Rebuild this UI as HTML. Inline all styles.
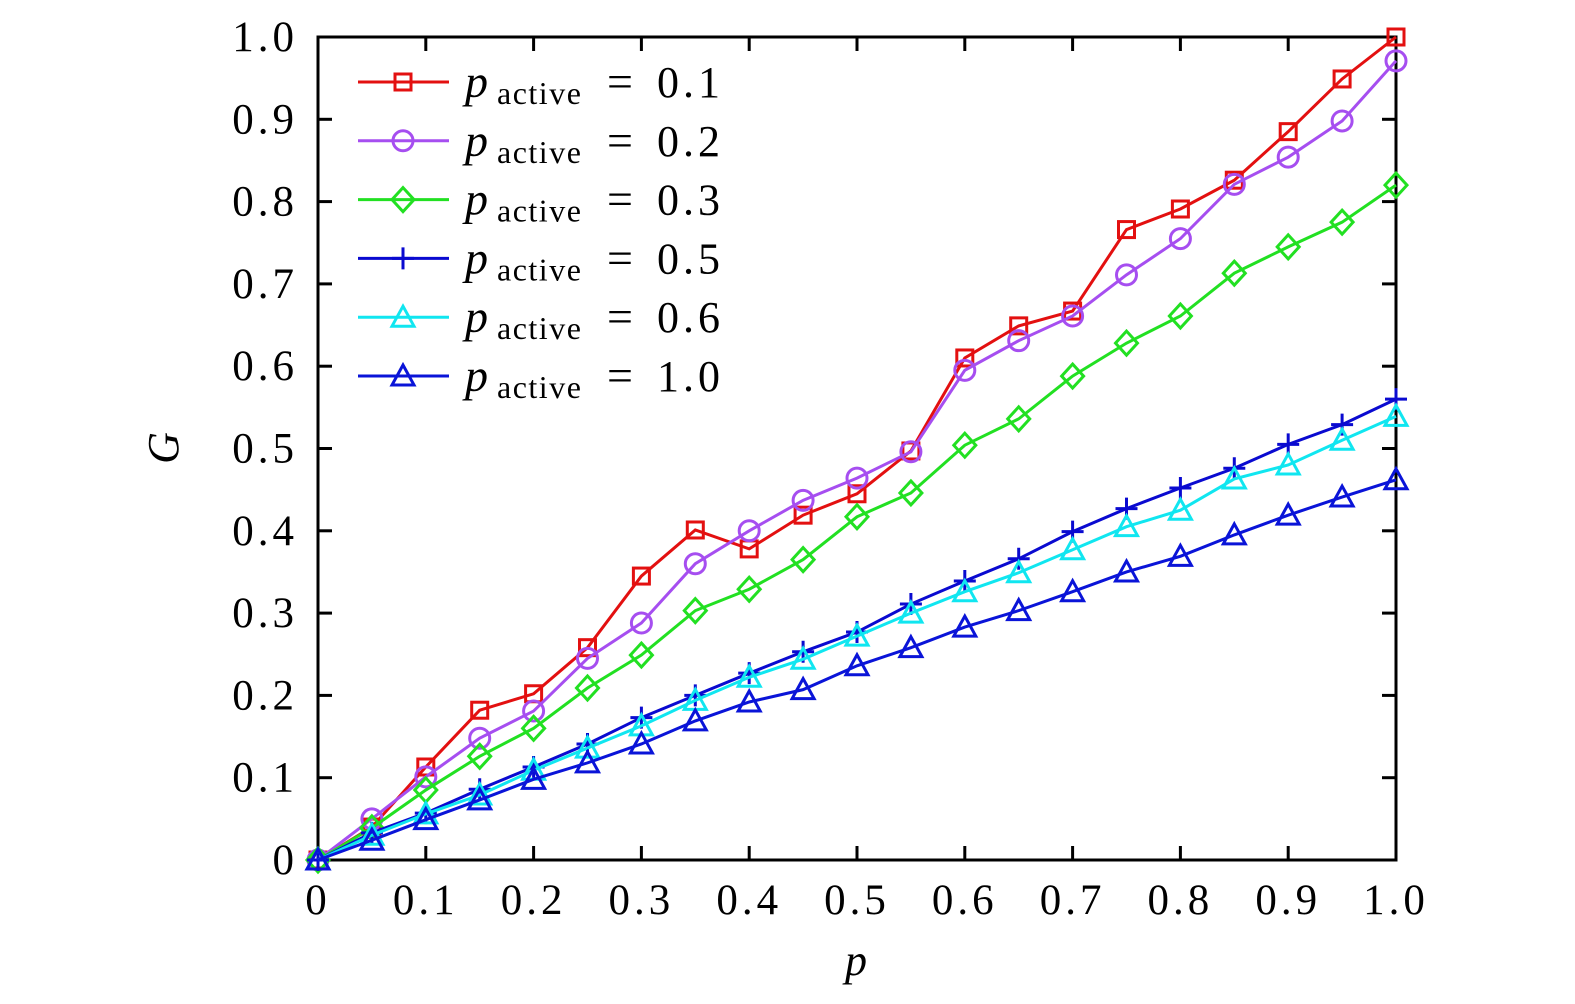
<!DOCTYPE html>
<html><head><meta charset="utf-8"><style>
html,body{margin:0;padding:0;background:#fff;}
svg{display:block;font-family:"Liberation Serif","DejaVu Serif",serif;}
</style></head><body>
<svg id="chart" width="1575" height="1004" viewBox="0 0 1575 1004" xmlns="http://www.w3.org/2000/svg">
<g id="grid"></g><g id="series"></g><g id="legend"></g>
</svg>
<script>
const xValues=[0,0.05,0.1,0.15,0.2,0.25,0.3,0.35,0.4,0.45,0.5,0.55,0.6,0.65,0.7,0.75,0.8,0.85,0.9,0.95,1.0];
const g01=[0,0.04,0.113,0.182,0.202,0.258,0.345,0.401,0.378,0.419,0.445,0.497,0.61,0.649,0.667,0.766,0.791,0.826,0.885,0.949,1.0];
const g02=[0,0.05,0.101,0.148,0.181,0.245,0.288,0.36,0.4,0.437,0.464,0.496,0.595,0.631,0.661,0.711,0.755,0.821,0.854,0.898,0.971];
const g03=[0,0.039,0.085,0.126,0.16,0.209,0.249,0.303,0.329,0.365,0.417,0.446,0.504,0.536,0.588,0.628,0.661,0.713,0.745,0.775,0.82];
const g05=[0,0.033,0.057,0.086,0.113,0.141,0.173,0.2,0.227,0.253,0.277,0.311,0.339,0.366,0.399,0.427,0.452,0.476,0.505,0.529,0.56];
const g06=[0,0.03,0.056,0.079,0.109,0.136,0.163,0.194,0.222,0.244,0.272,0.3,0.326,0.349,0.377,0.405,0.425,0.463,0.48,0.51,0.539];
const g10=[0,0.024,0.049,0.073,0.098,0.118,0.141,0.169,0.192,0.207,0.236,0.258,0.283,0.303,0.326,0.35,0.369,0.395,0.419,0.441,0.462];
const xTicks=[0,0.1,0.2,0.3,0.4,0.5,0.6,0.7,0.8,0.9,1.0];
const xTickLabels=["0","0.1","0.2","0.3","0.4","0.5","0.6","0.7","0.8","0.9","1.0"];
const yTicks=[0,0.1,0.2,0.3,0.4,0.5,0.6,0.7,0.8,0.9,1.0];
const yTickLabels=["0","0.1","0.2","0.3","0.4","0.5","0.6","0.7","0.8","0.9","1.0"];
const legendLabels=["0.1","0.2","0.3","0.5","0.6","1.0"];

const X0=318,X1=1396,Y0=860,Y1=37;
const sx=v=>X0+(X1-X0)*v;
const sy=v=>Y0-(Y0-Y1)*v;
const NS="http://www.w3.org/2000/svg";
function mk(tag,attrs,parent){const e=document.createElementNS(NS,tag);for(const k in attrs)e.setAttribute(k,attrs[k]);parent.appendChild(e);return e;}
const grid=document.getElementById('grid'),ser=document.getElementById('series'),leg=document.getElementById('legend');

const frame=mk('rect',{x:X0,y:Y1,width:X1-X0,height:Y0-Y1,fill:'none',stroke:'#000','stroke-width':3},grid);


xTicks.forEach((t,i)=>{
  const x=sx(t);
  const a=mk('line',{x1:x,y1:Y0,x2:x,y2:Y0-14,stroke:'#000','stroke-width':3},grid);
  
  
  const b=mk('line',{x1:x,y1:Y1,x2:x,y2:Y1+14,stroke:'#000','stroke-width':3},grid);
  
  
  const tx=mk('text',{x:x,y:914,'font-size':43,'letter-spacing':4,'text-anchor':'middle'},grid);
  tx.textContent=xTickLabels[i];
  
  
});
yTicks.forEach((t,i)=>{
  const y=sy(t);
  const a=mk('line',{x1:X0,y1:y,x2:X0+14,y2:y,stroke:'#000','stroke-width':3},grid);
  
  
  const b=mk('line',{x1:X1,y1:y,x2:X1-14,y2:y,stroke:'#000','stroke-width':3},grid);
  
  
  const tx=mk('text',{x:298,y:y+14,'font-size':43,'letter-spacing':4,'text-anchor':'end'},grid);
  tx.textContent=yTickLabels[i];
  
  
});
const xt=mk('text',{x:856,y:975,'font-size':44,'font-style':'italic','text-anchor':'middle'},grid);
xt.textContent='p';


const yt=mk('text',{x:0,y:0,'font-size':44,'font-style':'italic','text-anchor':'middle',transform:'translate(178,448) rotate(-90)'},grid);
yt.textContent='G';



function marker(type,x,y,color,parent){
  const s={fill:'none',stroke:color,'stroke-width':3};
  let e;
  if(type==='square')e=mk('rect',Object.assign({x:x-8,y:y-8,width:16,height:16},s),parent);
  else if(type==='circle')e=mk('circle',Object.assign({cx:x,cy:y,r:10},s),parent);
  else if(type==='diamond')e=mk('polygon',Object.assign({points:`${x},${y-12} ${x+11},${y} ${x},${y+12} ${x-11},${y}`},s),parent);
  else if(type==='plus')e=mk('path',Object.assign({d:`M${x-11},${y}H${x+11}M${x},${y-11}V${y+11}`},s),parent);
  else e=mk('polygon',Object.assign({points:`${x},${y-11} ${x+11},${y+9} ${x-11},${y+9}`},s),parent);
  return e;
}
const seriesList=[
  {vals:g01,color:'#e31010',m:'square',name:'series-p01'},
  {vals:g02,color:'#a64ef0',m:'circle',name:'series-p02'},
  {vals:g03,color:'#22e022',m:'diamond',name:'series-p03'},
  {vals:g05,color:'#0a0ad0',m:'plus',name:'series-p05'},
  {vals:g06,color:'#10e6f0',m:'triangle',name:'series-p06'},
  {vals:g10,color:'#0a14d8',m:'triangle',name:'series-p10'}
];
seriesList.forEach((s,si)=>{
  const g=mk('g',{},ser);
  
  
  const pts=s.vals.map((v,i)=>sx(xValues[i])+','+sy(v)).join(' ');
  const pl=mk('polyline',{points:pts,fill:'none',stroke:s.color,'stroke-width':3},g);
  
  
  s.vals.forEach((v,i)=>{
    const m=marker(s.m,sx(xValues[i]),sy(v),s.color,g);
    
    
  });
  const ly=82+si*58.8;
  const lg=mk('g',{},leg);
  
  
  mk('line',{x1:358,y1:ly,x2:449,y2:ly,stroke:s.color,'stroke-width':3},lg);
  marker(s.m,403,ly,s.color,lg);
  const p=mk('text',{x:465,y:ly+15,'font-size':46,'font-style':'italic'},lg);p.textContent='p';
  const a=mk('text',{x:497,y:ly+22,'font-size':32,'letter-spacing':1.5},lg);a.textContent='active';
  const e=mk('text',{x:607,y:ly+15,'font-size':46},lg);e.textContent='=';
  const v=mk('text',{x:657,y:ly+15,'font-size':44,'letter-spacing':4},lg);v.textContent=legendLabels[si];
});
</script>
</body></html>
